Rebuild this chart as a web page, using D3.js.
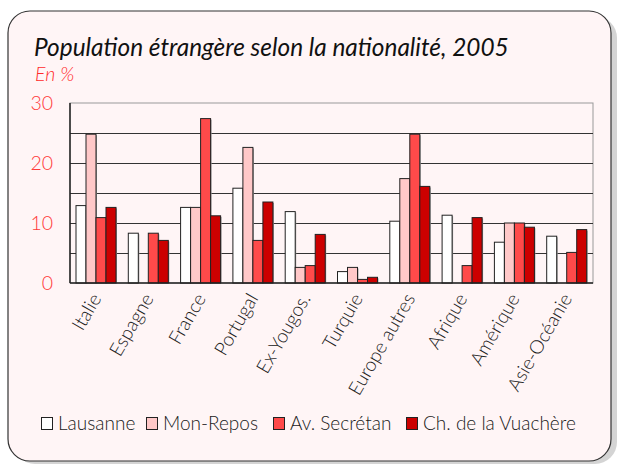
<!DOCTYPE html>
<html>
<head>
<meta charset="utf-8">
<script src="https://cdn.jsdelivr.net/npm/d3@7"></script>
<style>
  body { margin: 0; background: #fff; }
  text { font-family: Lato, "Open Sans", sans-serif; }
</style>
</head>
<body>
<div id="chart"></div>
<script>
// data (percent)
var categories = ["Italie", "Espagne", "France", "Portugal", "Ex-Yougos.", "Turquie",
                  "Europe autres", "Afrique", "Amérique", "Asie-Océanie"];
var seriesNames = ["Lausanne", "Mon-Repos", "Av. Secrétan", "Ch. de la Vuachère"];
var lausanne   = [12.9, 8.3, 12.6, 15.8, 11.9, 1.9, 10.3, 11.3, 6.8, 7.8];
var monRepos   = [24.8, null, 12.6, 22.6, 2.6, 2.6, 17.4, null, 10.0, null];
var secretan   = [10.9, 8.3, 27.4, 7.1, 2.9, 0.6, 24.8, 2.9, 10.0, 5.1];
var vuachere   = [12.6, 7.1, 11.2, 13.5, 8.1, 0.95, 16.1, 10.9, 9.3, 8.9];
var yTicks = [0, 10, 20, 30];
var gridTicks = [5, 10, 15, 20, 25];

var colors = ["#ffffff", "#ffc8c8", "#ff4a4a", "#cc0000"];
var seriesValues = [lausanne, monRepos, secretan, vuachere];

var W = 617, H = 464;
var plot = {left: 70, right: 593, top: 103, bottom: 283};

var svg = d3.select("#chart").append("svg")
    .attr("width", W)
    .attr("height", H);

// card with shadow
svg.append("rect")
    .attr("x", 13).attr("y", 16)
    .attr("width", 604).attr("height", 448)
    .attr("rx", 22)
    .attr("fill", "#d4d4d4");
svg.append("rect")
    .attr("x", 8).attr("y", 11)
    .attr("width", 603).attr("height", 450)
    .attr("rx", 22)
    .attr("fill", "#fff5f6")
    .attr("stroke", "#333")
    .attr("stroke-width", 1.2);

svg.append("text")
    .attr("x", 34).attr("y", 56)
    .attr("font-size", 24.4)
    .attr("font-style", "italic")
    .attr("fill", "#111")
    .text("Population étrangère selon la nationalité, 2005");

svg.append("text")
    .attr("x", 35).attr("y", 81)
    .attr("font-size", 19.5)
    .attr("font-style", "italic")
    .attr("font-weight", 300)
    .attr("fill", "#ff2a2a")
    .text("En %");

var x0 = d3.scaleBand()
  .domain(categories)
  .range([plot.left, plot.right]);

var x1 = d3.scaleBand()
  .domain(seriesNames)
  .range([6, 46]);

var y = d3.scaleLinear()
  .domain([0, 30])
  .range([plot.bottom, plot.top]);

// frame top/right
svg.append("rect")
    .attr("x", plot.left).attr("y", plot.top)
    .attr("width", plot.right - plot.left)
    .attr("height", plot.bottom - plot.top)
    .attr("fill", "none")
    .attr("stroke", "#999")
    .attr("stroke-width", 1);

// grid lines
svg.selectAll(".grid")
  .data(gridTicks)
  .enter()
  .append("line")
    .attr("x1", plot.left)
    .attr("x2", plot.right)
    .attr("y1", function(d) { return Math.round(y(d)) + 0.5; })
    .attr("y2", function(d) { return Math.round(y(d)) + 0.5; })
    .attr("stroke", "#333")
    .attr("stroke-width", 1);

// y tick labels
svg.selectAll(".ylab")
  .data(yTicks)
  .enter()
  .append("text")
    .attr("x", 53)
    .attr("y", function(d) { return y(d); })
    .attr("dy", "0.36em")
    .attr("text-anchor", "end")
    .attr("font-size", 19.5)
    .attr("font-weight", 300)
    .attr("fill", "#ff3a3a")
    .text(function(d) { return d; });

// bars
var rows = [];
categories.forEach(function(c, i) {
  seriesNames.forEach(function(s, j) {
    var v = seriesValues[j][i];
    if (v != null) rows.push({cat: c, series: s, value: v, color: colors[j]});
  });
});

svg.selectAll(".shadow")
  .data(rows)
  .enter()
  .append("rect")
    .attr("x", function(d) { return x0(d.cat) + x1(d.series) + 1; })
    .attr("y", function(d) { return y(d.value) + 1; })
    .attr("width", x1.bandwidth())
    .attr("height", function(d) { return y(0) - y(d.value) - 1; })
    .attr("fill", "#999");

svg.selectAll(".bar")
  .data(rows)
  .enter()
  .append("rect")
    .attr("x", function(d) { return x0(d.cat) + x1(d.series); })
    .attr("y", function(d) { return y(d.value); })
    .attr("width", x1.bandwidth())
    .attr("height", function(d) { return y(0) - y(d.value); })
    .attr("fill", function(d) { return d.color; })
    .attr("stroke", "#222")
    .attr("stroke-width", 1);

// axes lines
svg.append("line")
    .attr("x1", plot.left).attr("x2", plot.left)
    .attr("y1", plot.top).attr("y2", plot.bottom)
    .attr("stroke", "#222").attr("stroke-width", 1.5);
svg.append("line")
    .attr("x1", plot.left).attr("x2", plot.right)
    .attr("y1", plot.bottom).attr("y2", plot.bottom)
    .attr("stroke", "#222").attr("stroke-width", 1.5);

// category labels
svg.selectAll(".xlab")
  .data(categories)
  .enter()
  .append("text")
    .attr("transform", function(d) {
      return "translate(" + (x0(d) + x0.bandwidth() / 2) + "," + 295 + ")rotate(-60)";
    })
    .attr("dy", "0.35em")
    .attr("text-anchor", "end")
    .attr("font-size", 19)
    .attr("font-weight", 300)
    .attr("fill", "#1a1a1a")
    .text(function(d) { return d; });

// legend
var legendX = [41, 146, 273, 406];
seriesNames.forEach(function(s, j) {
  svg.append("rect")
    .attr("x", legendX[j] + 0.5).attr("y", 417.5)
    .attr("width", 11).attr("height", 12)
    .attr("fill", colors[j])
    .attr("stroke", "#222")
    .attr("stroke-width", 1);
  svg.append("text")
    .attr("x", legendX[j] + 17).attr("y", 430)
    .attr("font-size", 19)
    .attr("font-weight", 300)
    .attr("fill", "#1a1a1a")
    .text(s);
});
</script>
</body>
</html>
